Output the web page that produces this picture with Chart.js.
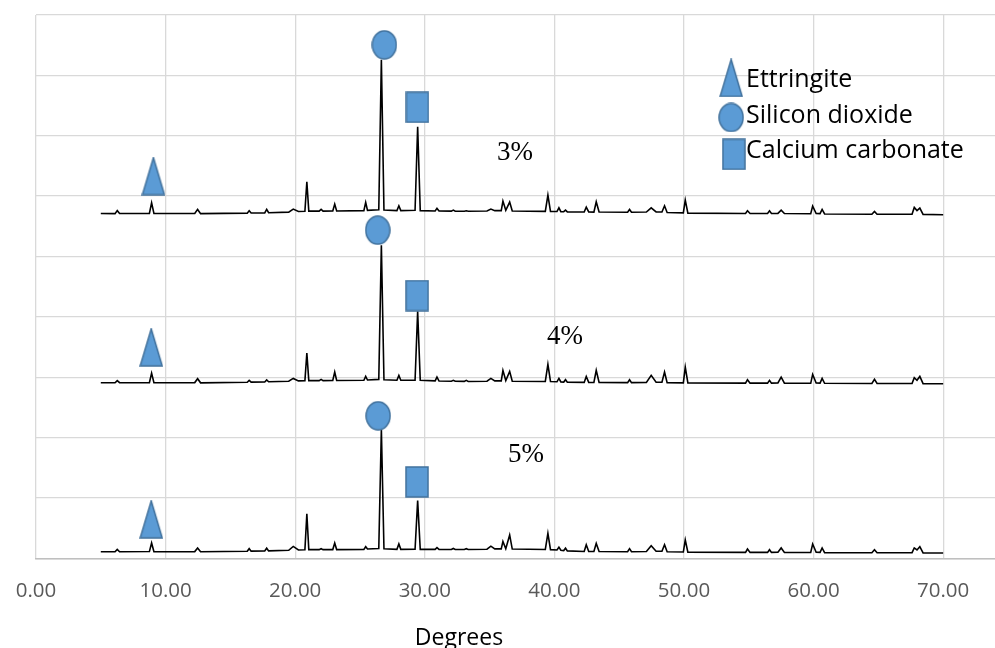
<!DOCTYPE html>
<html>
<head>
<meta charset="utf-8">
<title>XRD patterns</title>
<script src="https://cdn.jsdelivr.net/npm/chart.js@4.4.1/dist/chart.umd.min.js"></script>
<style>
  html, body { margin: 0; padding: 0; background: #fff; }
  canvas { display: block; }
</style>
</head>
<body>
<canvas id="xrd" width="995" height="648"></canvas>
<script>
// 2-theta positions shared by the three scans
const angles = [
  5.00, 6.10, 6.27, 6.45, 8.75, 8.92, 9.10, 12.25, 12.47, 12.70,
  16.30, 16.45, 16.60, 17.65, 17.80, 17.95, 19.50, 19.85, 20.25, 20.75,
  20.90, 21.05, 21.85, 22.00, 22.15, 22.90, 23.05, 23.20, 25.30, 25.44,
  25.58, 26.45, 26.65, 26.85, 27.85, 28.00, 28.15, 29.25, 29.45, 29.65,
  30.80, 30.94, 31.10, 32.05, 32.20, 32.35, 33.05, 33.20, 33.35, 34.80,
  35.10, 35.40, 35.90, 36.03, 36.25, 36.55, 36.75, 39.30, 39.50, 39.70,
  40.20, 40.35, 40.50, 40.72, 40.86, 41.00, 42.30, 42.46, 42.65, 43.05,
  43.23, 43.45, 45.65, 45.80, 45.95, 47.10, 47.47, 47.85, 48.30, 48.50,
  48.70, 49.95, 50.10, 50.30, 54.75, 54.90, 55.10, 56.45, 56.60, 56.75,
  57.25, 57.50, 57.75, 59.78, 59.93, 60.20, 60.50, 60.66, 60.85, 64.50,
  64.70, 64.90, 67.60, 67.77, 67.98, 68.20, 68.45, 70.00
];

// stacked intensities (arbitrary units, offset per scan)
const scan3 = [
  5712, 5710, 5760, 5712, 5715, 5890, 5712, 5712, 5780, 5710,
  5718, 5757, 5720, 5722, 5780, 5725, 5735, 5785, 5745, 5750,
  6238, 5752, 5752, 5780, 5752, 5755, 5868, 5755, 5760, 5896,
  5765, 5775, 8257, 5770, 5760, 5840, 5760, 5765, 7150, 5760,
  5755, 5797, 5755, 5752, 5768, 5750, 5750, 5757, 5750, 5755,
  5785, 5760, 5760, 5918, 5765, 5901, 5755, 5748, 6017, 5748,
  5745, 5807, 5743, 5742, 5768, 5740, 5738, 5818, 5738, 5736,
  5906, 5736, 5734, 5780, 5734, 5736, 5807, 5738, 5738, 5840,
  5730, 5722, 5934, 5718, 5712, 5757, 5712, 5712, 5757, 5712,
  5714, 5768, 5712, 5708, 5835, 5712, 5710, 5780, 5705, 5700,
  5747, 5700, 5702, 5813, 5760, 5802, 5698, 5692
];
const scan4 = [
  2910, 2908, 2945, 2910, 2912, 3069, 2910, 2912, 2976, 2908,
  2918, 2948, 2920, 2922, 2956, 2925, 2935, 2981, 2940, 2942,
  3401, 2945, 2945, 2965, 2945, 2946, 3086, 2946, 2950, 3015,
  2955, 2965, 5188, 2960, 2950, 3031, 2950, 2952, 4093, 2950,
  2940, 3003, 2938, 2935, 2950, 2933, 2932, 2948, 2931, 2935,
  2981, 2940, 2940, 3114, 2945, 3097, 2935, 2930, 3214, 2930,
  2925, 2981, 2922, 2920, 2960, 2918, 2915, 3014, 2915, 2914,
  3114, 2913, 2912, 2960, 2912, 2915, 3031, 2918, 2918, 3086,
  2910, 2908, 3169, 2905, 2903, 2960, 2903, 2903, 2948, 2903,
  2905, 3003, 2903, 2900, 3048, 2905, 2903, 2981, 2900, 2896,
  2965, 2896, 2898, 2993, 2950, 3014, 2895, 2893
];
const scan5 = [
  111, 109, 150, 111, 113, 255, 111, 113, 173, 110,
  118, 161, 120, 122, 169, 125, 135, 199, 140, 142,
  737, 145, 145, 161, 145, 146, 255, 146, 150, 194,
  155, 165, 2135, 160, 150, 239, 150, 152, 957, 150,
  150, 178, 148, 148, 165, 148, 148, 161, 148, 152,
  202, 158, 158, 282, 160, 388, 155, 148, 415, 145,
  140, 186, 135, 130, 169, 125, 115, 227, 115, 114,
  249, 113, 110, 161, 110, 115, 211, 118, 118, 227,
  110, 105, 305, 102, 100, 156, 100, 100, 144, 100,
  102, 173, 100, 98, 239, 102, 100, 173, 96, 93,
  144, 93, 95, 173, 140, 194, 92, 90
];

// phase markers: [2-theta, intensity] (last entry sits in the key)
const ettringiteMarks = [[9.06, 6332], [8.89, 3496], [8.89, 647], [53.64, 7958]];
const quartzMarks = [[26.88, 8506], [26.37, 5437], [26.40, 2362], [53.64, 7303]];
const calciteMarks = [[29.43, 7472], [29.41, 4353], [29.40, 1267], [53.85, 6692]];

const keyLabels = ['Ettringite', 'Silicon dioxide', 'Calcium carbonate'];
const scanLabels = ['3%', '4%', '5%'];
const xTicks = [0, 10, 20, 30, 40, 50, 60, 70];

const FILL = '#5B9BD5';
const EDGE = '#41719C';

function makeMarker(w, h, shape) {
  const c = document.createElement('canvas');
  c.width = w;
  c.height = h;
  const g = c.getContext('2d');
  g.fillStyle = FILL;
  g.strokeStyle = EDGE;
  g.lineWidth = 1.5;
  g.beginPath();
  shape(g, w, h);
  g.closePath();
  g.fill();
  g.stroke();
  return c;
}

const triangleImg = makeMarker(24, 39, (g, w, h) => {
  g.moveTo(w / 2, 1);
  g.lineTo(w - 1, h - 1);
  g.lineTo(1, h - 1);
});
const circleImg = makeMarker(26, 30, (g, w, h) => {
  g.ellipse(w / 2, h / 2, w / 2 - 1, h / 2 - 1, 0, 0, Math.PI * 2);
});
const squareImg = makeMarker(24, 32, (g, w, h) => {
  g.rect(1, 1, w - 2, h - 2);
});

const toPoints = (ys) => angles.map((a, i) => ({ x: a, y: ys[i] }));
const toMarks = (arr) => arr.map(([x, y]) => ({ x, y }));

function scanDataset(ys) {
  return {
    type: 'line',
    data: toPoints(ys),
    borderColor: '#000',
    borderWidth: 1.6,
    pointRadius: 0,
    tension: 0,
    fill: false,
    order: 2,
  };
}

function markDataset(arr, img) {
  return {
    type: 'scatter',
    data: toMarks(arr),
    pointStyle: img,
    pointRadius: 12,
    order: 0,
  };
}

// free text: scan labels, key labels, axis title
const annotations = {
  id: 'annotations',
  afterDatasetsDraw(chart) {
    const { ctx } = chart;
    ctx.save();
    ctx.textBaseline = 'alphabetic';
    ctx.textAlign = 'left';

    ctx.fillStyle = '#000';
    ctx.font = '27px "Liberation Serif", "Times New Roman", serif';
    const scanPos = [[497, 160], [547, 344], [508, 462]];
    scanLabels.forEach((t, i) => ctx.fillText(t, scanPos[i][0], scanPos[i][1]));

    ctx.font = '25px "Open Sans", sans-serif';
    const keyY = [87, 123, 158];
    keyLabels.forEach((t, i) => ctx.fillText(t, 746, keyY[i]));

    ctx.font = '23px "Open Sans", sans-serif';
    ctx.textAlign = 'center';
    ctx.fillText('Degrees', 459, 645);
    ctx.restore();
  },
};

new Chart(document.getElementById('xrd'), {
  type: 'scatter',
  data: {
    datasets: [
      markDataset(ettringiteMarks, triangleImg),
      markDataset(quartzMarks, circleImg),
      markDataset(calciteMarks, squareImg),
      scanDataset(scan3),
      scanDataset(scan4),
      scanDataset(scan5),
    ],
  },
  options: {
    responsive: false,
    animation: false,
    // markers are big images, keep the plot edges where the original has them
    layout: { autoPadding: false, padding: { left: 36, top: 15, right: 0, bottom: 25 } },
    plugins: {
      legend: { display: false },
      tooltip: { enabled: false },
    },
    scales: {
      x: {
        type: 'linear',
        min: 0,
        max: 74,
        afterBuildTicks: (axis) => { axis.ticks = xTicks.map(v => ({ value: v })); },
        afterFit: (axis) => { axis.paddingRight = 0; axis.paddingLeft = 0; },
        ticks: {
          callback: (v) => Number(v).toFixed(2),
          color: '#595959',
          font: { family: 'Open Sans', size: 20.5 },
          padding: 20,
          maxRotation: 0,
          autoSkip: false,
        },
        grid: { color: '#D9D9D9', lineWidth: 1.3, drawTicks: false },
        border: { color: '#BFBFBF', width: 1.5 },
      },
      y: {
        min: 0,
        max: 9000,
        ticks: { stepSize: 1000, display: false },
        grid: { color: '#D9D9D9', lineWidth: 1.3, drawTicks: false },
        border: { display: false },
      },
    },
  },
  plugins: [annotations],
});
</script>
</body>
</html>
